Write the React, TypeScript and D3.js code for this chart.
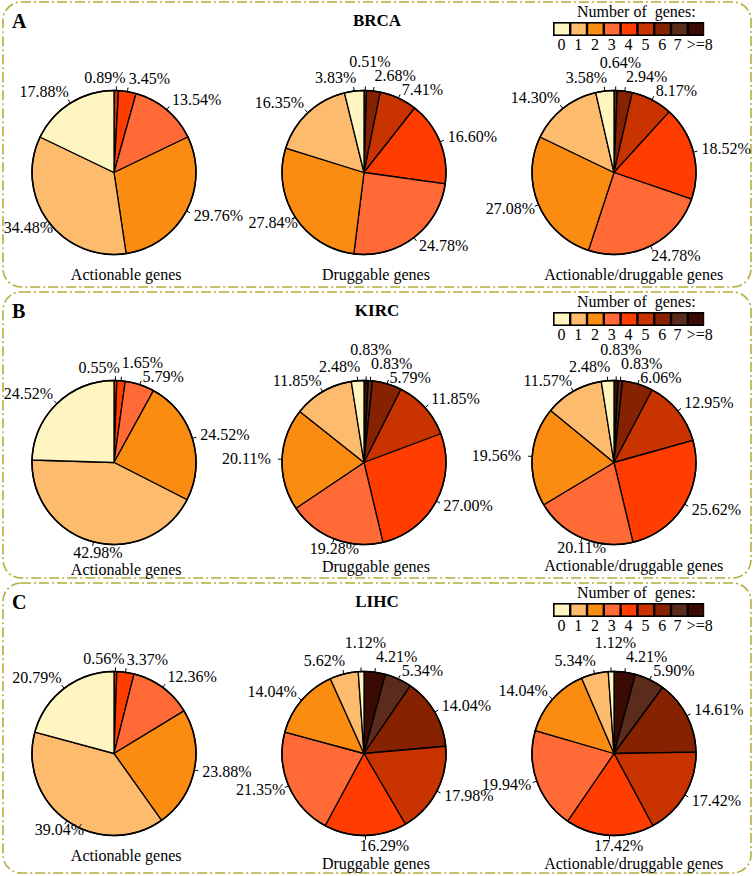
import React, { useEffect, useRef } from 'react';
import * as d3 from 'd3';

const categories = ['0', '1', '2', '3', '4', '5', '6', '7', '>=8'];
const categoryColors = ['#FFF5C0', '#FDBB6E', '#FB8C12', '#FF6A36', '#FF3D00', '#C93300', '#862200', '#5B2B1B', '#3A0B02'];

const panelLetters = ['A', 'B', 'C'];
const cancerTypes = ['BRCA', 'KIRC', 'LIHC'];
const geneSetNames = ['Actionable genes', 'Druggable genes', 'Actionable/druggable genes'];

// percentages per category 0,1,...,7,>=8
const brcaActionable = [17.88, 34.48, 29.76, 13.54, 3.45, 0.89, 0, 0, 0];
const brcaDruggable = [3.83, 16.35, 27.84, 24.78, 16.6, 7.41, 2.68, 0.51, 0];
const brcaActDrug = [3.58, 14.3, 27.08, 24.78, 18.52, 8.17, 2.94, 0.64, 0];
const kircActionable = [24.52, 42.98, 24.52, 5.79, 1.65, 0.55, 0, 0, 0];
const kircDruggable = [2.48, 11.85, 20.11, 19.28, 27.0, 11.85, 5.79, 0.83, 0.83];
const kircActDrug = [2.48, 11.57, 19.56, 20.11, 25.62, 12.95, 6.06, 0.83, 0.83];
const lihcActionable = [20.79, 39.04, 23.88, 12.36, 3.37, 0.56, 0, 0, 0];
const lihcDruggable = [1.12, 5.62, 14.04, 21.35, 16.29, 17.98, 14.04, 5.34, 4.21];
const lihcActDrug = [1.12, 5.34, 14.04, 19.94, 17.42, 17.42, 14.61, 5.9, 4.21];

const panelData = [
  [brcaActionable, brcaDruggable, brcaActDrug],
  [kircActionable, kircDruggable, kircActDrug],
  [lihcActionable, lihcDruggable, lihcActDrug],
];

const W = 754;
const H = 876;
const FONT = '"Liberation Serif", "Times New Roman", serif';
const panelTops = [2, 292, 583];
const panelHeights = [285, 286, 290];
const pieCx = [114, 364, 614];
const pieCyOffset = 170.5;
const R = 82;
const LABEL_SIZE = 16;
const SEP = 14;
const SHRINK = 0.78;

type Lab = {
  text: string;
  px: number;
  py: number;
  x0: number;
  y: number;
  w: number;
  angle: number;
  node: SVGTextElement;
};

function overlaps(a: Lab, b: Lab) {
  return a.x0 < b.x0 + b.w + 1 && b.x0 < a.x0 + a.w + 1 && Math.abs(a.y - b.y) < SEP;
}

export default function App() {
  const ref = useRef<SVGSVGElement | null>(null);

  useEffect(() => {
    const svg = d3.select(ref.current);
    svg.selectAll('*').remove();
    svg.append('rect').attr('width', W).attr('height', H).attr('fill', '#ffffff');

    const arc = d3.arc<d3.PieArcDatum<{ v: number; c: number }>>().innerRadius(0).outerRadius(R);
    const pie = d3
      .pie<{ v: number; c: number }>()
      .sort(null)
      .value((d) => d.v);

    panelData.forEach((pies, pi) => {
      const top = panelTops[pi];
      const ph = panelHeights[pi];
      const g = svg.append('g');

      g.append('rect')
        .attr('x', 3)
        .attr('y', top)
        .attr('width', W - 6)
        .attr('height', ph)
        .attr('rx', 18)
        .attr('ry', 18)
        .attr('fill', 'none')
        .attr('stroke', '#B3AE3A')
        .attr('stroke-width', 1.6)
        .attr('stroke-dasharray', '10,3,2,3');

      g.append('text')
        .attr('x', 12)
        .attr('y', top + 26)
        .attr('font-family', FONT)
        .attr('font-weight', 'bold')
        .attr('font-size', 20)
        .text(panelLetters[pi]);

      g.append('text')
        .attr('x', 377)
        .attr('y', top + 24)
        .attr('text-anchor', 'middle')
        .attr('font-family', FONT)
        .attr('font-weight', 'bold')
        .attr('font-size', 17)
        .text(cancerTypes[pi]);

      // legend
      const lx = 553;
      const bw = 16.8;
      const by = top + 20;
      const bh = 14;
      g.append('text')
        .attr('x', 577)
        .attr('y', top + 14.5)
        .attr('font-family', FONT)
        .attr('font-size', 16)
        .style('white-space', 'pre')
        .text('Number of  genes:');
      g.append('rect')
        .attr('x', lx)
        .attr('y', by)
        .attr('width', bw * categories.length)
        .attr('height', bh)
        .attr('fill', '#000');
      categories.forEach((c, i) => {
        g.append('rect')
          .attr('x', lx + i * bw + 1.6)
          .attr('y', by + 1.6)
          .attr('width', bw - 2.4)
          .attr('height', bh - 3.2)
          .attr('fill', categoryColors[i]);
        g.append('text')
          .attr('x', lx + i * bw + bw / 2 + (i === categories.length - 1 ? 4 : i === categories.length - 2 ? -1.5 : 0))
          .attr('y', by + bh + 13.5)
          .attr('text-anchor', 'middle')
          .attr('font-family', FONT)
          .attr('font-size', 16)
          .text(c);
      });

      pies.forEach((values, k) => {
        const cx = pieCx[k];
        const cy = top + pieCyOffset;
        const data = values
          .map((v, c) => ({ v, c }))
          .filter((d) => d.v > 0)
          .reverse();
        const arcs = pie(data);
        const pg = g.append('g');
        pg.selectAll('path.slice')
          .data(arcs)
          .enter()
          .append('path')
          .attr('class', 'slice')
          .attr('transform', `translate(${cx},${cy})`)
          .attr('d', arc as any)
          .attr('fill', (d) => categoryColors[d.data.c])
          .attr('stroke', '#000')
          .attr('stroke-width', 1.3)
          .attr('stroke-linejoin', 'round');
        pg.append('circle')
          .attr('cx', cx)
          .attr('cy', cy)
          .attr('r', R)
          .attr('fill', 'none')
          .attr('stroke', '#000')
          .attr('stroke-width', 1.6);

        const labs: Lab[] = arcs.map((a) => {
          const ang = (a.startAngle + a.endAngle) / 2;
          const s = Math.sin(ang);
          const co = Math.cos(ang);
          pg.append('line')
            .attr('x1', cx + R * s)
            .attr('y1', cy - R * co)
            .attr('x2', cx + 1.05 * R * s)
            .attr('y2', cy - 1.05 * R * co)
            .attr('stroke', '#000')
            .attr('stroke-width', 1);
          const text = a.data.v.toFixed(2) + '%';
          const node = pg
            .append('text')
            .attr('font-family', FONT)
            .attr('font-size', LABEL_SIZE)
            .text(text)
            .node() as SVGTextElement;
          const w = node.getComputedTextLength();
          const px = cx + 1.1 * R * s;
          const py = cy - 1.1 * R * co;
          let x0: number;
          if (s >= 0) {
            const gShift = -0.12 * Math.max(0, (-co - 0.8) / 0.2);
            x0 = px + gShift * w;
          } else {
            const as = Math.abs(s);
            const f = co >= 0 ? 0.92 + 0.15 * (1 - co) : 0.3 + 0.6 * Math.pow(as, 1.5) + 0.17 * Math.pow(as, 8);
            x0 = px - f * w;
          }
          const y = py - (co >= 0 ? 5 : 2.5) * co;
          return { text, px, py, x0, y, w, angle: ang, node };
        });

        const n = labs.length;
        const deg = (x: number) => (x * 180) / Math.PI;
        const first = labs[0];
        const last = labs[n - 1];
        if (n > 2 && deg(first.angle) < 4 && overlaps(first, labs[1])) {
          const flipped: Lab = { ...first, x0: first.px - SHRINK * first.w };
          if (flipped.x0 + flipped.w > labs[1].x0 - 2) flipped.x0 = labs[1].x0 - 2 - flipped.w;
          if (!overlaps(flipped, last)) {
            first.x0 = flipped.x0;
          } else {
            first.x0 = first.px - (SHRINK / 2) * first.w;
            first.y -= 14;
          }
        }
        if (n > 2 && deg(last.angle) > 356 && overlaps(last, labs[n - 2])) {
          const flipped: Lab = { ...last, x0: last.px };
          if (!overlaps(flipped, first)) {
            last.x0 = flipped.x0;
          } else {
            last.x0 = last.px - (SHRINK / 2) * last.w;
            last.y -= 14;
          }
        }
        for (let it = 0; it < 60; it++) {
          let moved = false;
          for (let i = 0; i < n; i++) {
            for (let j = i + 1; j < n; j++) {
              const a = labs[i];
              const b = labs[j];
              if (overlaps(a, b)) {
                const d = (SEP - Math.abs(a.y - b.y)) / 2 + 0.01;
                if (a.y <= b.y) {
                  a.y -= d;
                  b.y += d;
                } else {
                  a.y += d;
                  b.y -= d;
                }
                moved = true;
              }
            }
          }
          if (!moved) break;
        }
        labs.forEach((l) => {
          d3.select(l.node).attr('x', l.x0).attr('y', l.y + 5.3);
        });

        // subtitle sits below the pie, and below the lowest label
        const lowest = d3.max(labs, (l) => l.y) ?? cy;
        const subY = Math.max(top + 278, lowest + 23);
        const sub = pg
          .append('text')
          .attr('font-family', FONT)
          .attr('font-size', LABEL_SIZE)
          .text(geneSetNames[k]);
        const sw = (sub.node() as SVGTextElement).getComputedTextLength();
        sub.attr('x', cx - (SHRINK / 2) * sw).attr('y', subY);
      });
    });
  }, []);

  return (
    <svg
      ref={ref}
      width={W}
      height={H}
      style={{ position: 'absolute', left: 0, top: 0, display: 'block' }}
    />
  );
}
